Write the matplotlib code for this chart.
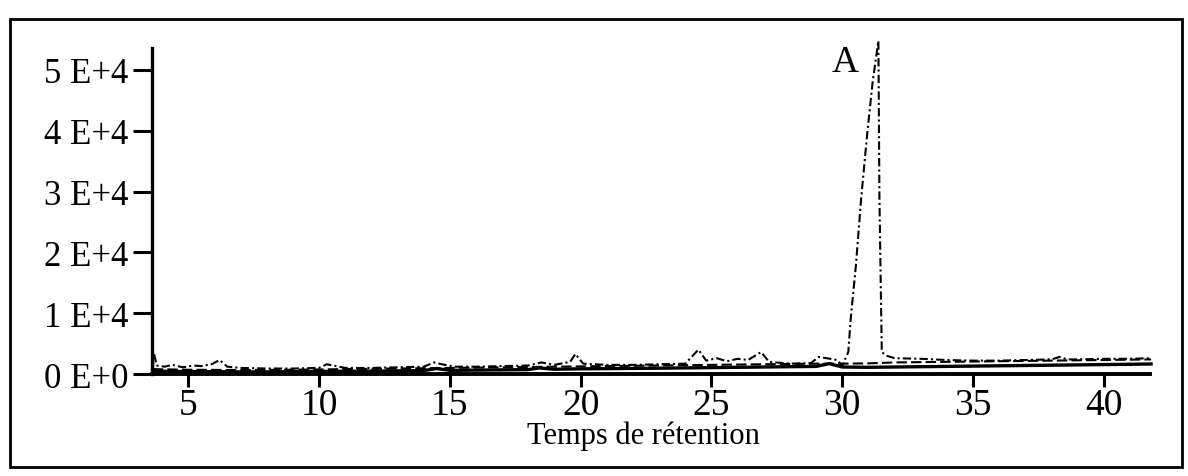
import matplotlib.pyplot as plt
from matplotlib.patches import Rectangle

# retention time (min) and detector response for the overlaid runs
t_solid = [3.65, 4.0, 5.0, 6.0, 7.0, 8.0, 9.0, 10.0, 11.0, 12.0, 13.0, 14.0,
           14.5, 15.0, 16.0, 17.0, 18.0, 18.4, 19.0, 20.0, 21.0, 22.0, 23.0,
           24.0, 25.0, 26.0, 27.0, 28.0, 29.0, 29.5, 30.0, 31.0, 32.0, 33.0,
           34.0, 35.0, 36.0, 37.0, 38.0, 39.0, 40.0, 41.0, 41.8]
y_solid = [600, 450, 400, 380, 350, 350, 380, 420, 450, 480, 520, 560,
           900, 600, 640, 680, 720, 1000, 780, 850, 880, 920, 960,
           1000, 1050, 1100, 1150, 1200, 1250, 1700, 1150, 1100, 1150, 1200,
           1250, 1300, 1350, 1400, 1450, 1500, 1550, 1600, 1650]

t_peak = [3.65, 3.7, 3.8, 4.1, 4.4, 4.8, 5.2, 5.5, 5.9, 6.2, 6.5, 7.0,
          8.0, 9.0, 10.0, 10.3, 11.0, 12.0, 13.0, 14.0, 14.4, 14.7, 15.2,
          16.0, 17.0, 18.0, 18.5, 19.0, 19.6, 19.8, 20.1, 21.0, 22.0, 23.0,
          24.0, 24.5, 24.8, 25.2, 25.6, 26.0, 26.4, 26.9, 27.2, 28.0, 28.8,
          29.1, 29.4, 29.8, 30.0, 30.23, 30.32, 30.52, 30.72, 30.96, 31.16,
          31.38, 31.42, 31.51, 31.7, 32.0, 33.0, 34.0, 35.0, 36.0, 37.0,
          38.0, 38.3, 38.6, 39.0, 40.0, 41.0, 41.8]
y_peak = [600, 3300, 1400, 1200, 1500, 1100, 1400, 1300, 1600, 2300, 1200, 1000,
          900, 900, 1000, 1600, 1000, 1000, 1100, 1200, 1900, 1600, 1200,
          1200, 1300, 1400, 1900, 1500, 2000, 3300, 1700, 1500, 1500, 1600,
          1700, 4000, 2200, 2600, 2100, 2500, 2300, 3600, 2000, 1700, 1800,
          2800, 2600, 2300, 1400, 3600, 9000, 17800, 28800, 39800, 48000,
          54800, 28800, 3600, 3000, 2600, 2500, 2300, 2200, 2200, 2300,
          2400, 2800, 2400, 2400, 2500, 2500, 2600]

t_dash = [3.65, 5.0, 7.0, 9.0, 11.0, 13.0, 15.0, 17.0, 19.0, 21.0, 23.0,
          25.0, 27.0, 29.0, 30.0, 31.0, 32.0, 34.0, 36.0, 38.0, 40.0, 41.8]
y_dash = [800, 700, 650, 700, 800, 900, 1000, 1100, 1200, 1300, 1400,
          1500, 1600, 1700, 1700, 1750, 1900, 2000, 2100, 2200, 2300, 2400]

y_ticks = [0, 10000, 20000, 30000, 40000, 50000]
y_tick_labels = ["0 E+0", "1 E+4", "2 E+4", "3 E+4", "4 E+4", "5 E+4"]
x_ticks = [5, 10, 15, 20, 25, 30, 35, 40]

plt.rcParams["font.family"] = ["Liberation Serif", "DejaVu Serif"]

fig = plt.figure(figsize=(11.88, 4.77), dpi=100)
ax = fig.add_axes([152 / 1188, 1 - 375 / 477, (1150 - 152) / 1188, (375 - 49) / 477])

ax.plot(t_solid, y_solid, color="black", lw=2.4, clip_on=False)
ax.plot(t_dash, y_dash, color="black", lw=1.5, ls=(0, (5, 2)), clip_on=False)
ax.plot(t_peak, y_peak, color="black", lw=1.5, ls=(0, (4, 1.5, 1, 1.5)),
        clip_on=False)

ax.set_xlim(3.62, 41.76)
ax.set_ylim(0, 53600)

ax.spines["top"].set_visible(False)
ax.spines["right"].set_visible(False)
ax.spines["left"].set_linewidth(2.4)
ax.spines["bottom"].set_linewidth(2.8)

ax.set_yticks(y_ticks)
ax.set_yticklabels(y_tick_labels, fontsize=25)
ax.set_xticks(x_ticks)
ax.set_xticklabels([str(v) for v in x_ticks], fontsize=27)
ax.tick_params(axis="y", length=14, width=2.2, pad=3)
ax.tick_params(axis="x", length=9, width=2.2, pad=1)

ax.set_xlabel("Temps de rétention", fontsize=22, va="baseline")
ax.xaxis.set_label_coords((643 - 152) / 998, (375 - 444) / 326)
ax.text(30.1, 51300, "A", fontsize=27, ha="center", va="center")

# frame around the whole figure
fig.patches.append(Rectangle((10 / 1188, 1 - 468 / 477), 1172 / 1188, 448 / 477,
                             transform=fig.transFigure, fill=False,
                             edgecolor="black", lw=2))

fig.savefig("out.png", dpi=100)
